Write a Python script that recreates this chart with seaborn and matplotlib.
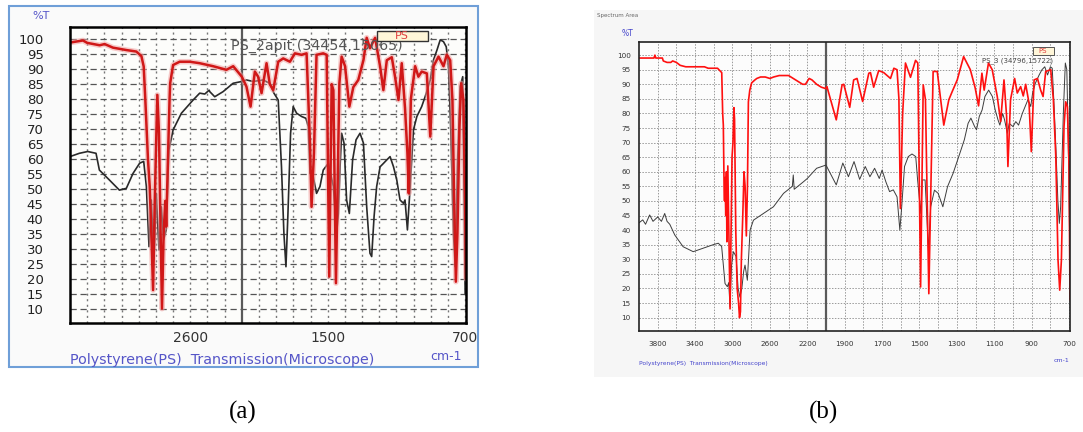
import numpy as np
import pandas as pd
import seaborn as sns
import matplotlib
matplotlib.use('Agg')
import matplotlib.pyplot as plt
from matplotlib.patches import Rectangle

# FTIR spectra of polystyrene
a_red_wn = [4000, 3849, 3800, 3655, 3597, 3500, 3344, 3228, 3169, 3142, 3123, 3092, 3072, 3053,
            3033, 3014, 2995, 2983, 2964, 2945, 2929, 2910, 2891, 2880, 2860, 2841, 2834, 2800,
            2723, 2606, 2490, 2334, 2179, 2100, 2000,
            1973, 1949, 1924, 1905, 1885, 1856, 1837, 1817, 1788, 1759, 1720, 1691, 1652, 1623,
            1603, 1594, 1580, 1565, 1526, 1506, 1491, 1477, 1467, 1452, 1432, 1419, 1399, 1374,
            1351, 1322, 1292, 1273, 1254, 1224, 1195, 1176, 1156, 1127, 1108, 1088, 1069, 1050,
            1036, 1028, 1016, 991, 972, 953, 923, 903, 884, 855, 826, 807, 787, 774, 764, 754,
            745, 733, 723, 710, 700, 695]
a_red_t = [98.9, 99.6, 98.8, 98, 98.4, 97.2, 96.4, 95.9, 94.4, 90.9, 79.7, 59.7, 50.8, 35,
           16.2, 45, 68, 81.4, 68.6, 35.2, 10, 35, 46, 37.4, 59.7, 80, 85.3, 91.4,
           92.5, 92.5, 92, 91, 89.8, 91, 87.5,
           84.2, 77.5, 89.2, 87.5, 82, 92, 85, 83, 92.5, 93.6, 92.5, 95.3, 94.8, 95.3,
           65.2, 44, 62, 94.8, 95.3, 94.8, 20.7, 85, 83, 18.5, 85.3, 94.2, 91, 77.5,
           84, 86.4, 93, 100.5, 97, 100.5, 90.9, 83, 93, 94, 87.5, 79.7, 92, 77,
           62, 48.5, 80, 91, 87.5, 89.2, 88.6, 67.5, 91, 94.2, 91, 94.8, 93, 79.7, 46.3, 19,
           35, 70.7, 85.3, 79.7, 46.3, 20]

a_black_wn = [4000, 3891, 3794, 3697, 3658, 3542, 3425, 3344, 3266, 3189, 3142, 3111, 3080, 3053,
              3022, 2995, 2964, 2936, 2910, 2880, 2849, 2800, 2703, 2567, 2490, 2431, 2380, 2373,
              2315, 2218, 2101, 2000,
              1973, 1934, 1876, 1837, 1813, 1788, 1769, 1755, 1743, 1732, 1716, 1701, 1681, 1652,
              1627, 1613, 1603, 1584, 1565, 1545, 1526, 1496, 1483, 1467, 1448, 1438, 1428, 1419,
              1405, 1390, 1374, 1355, 1335, 1312, 1292, 1273, 1254, 1244, 1230, 1215, 1195, 1176,
              1156, 1137, 1117, 1098, 1079, 1059, 1050, 1036, 1020, 1001, 981, 953, 933, 903, 884,
              864, 845, 826, 810, 797, 783, 768, 758, 745, 729, 714, 700]
a_black_t = [60.8, 61.9, 62.5, 61.9, 56.3, 53, 49.6, 50.2, 55.2, 58.6, 59.2, 50.8, 30.7, 46.3,
             26.3, 48.5, 29.6, 44, 33, 36.3, 63, 69.7, 75.3, 79.7, 82, 81.7, 83, 82.5,
             80.8, 82.5, 85.3, 85.9,
             86.4, 85.9, 86.4, 85.3, 82, 79.7, 57.4, 35.2, 24, 40.8, 68.6, 77.5, 75.3, 74.2,
             73.6, 70.8, 55.2, 54.1, 48.5, 50.8, 56.3, 58.6, 55.2, 50.8, 35.2, 41.8, 57.4, 68.6,
             65.3, 46.3, 41.8, 59.7, 66.4, 68.6, 65.3, 44, 28.5, 27.4, 40.8, 50.8, 57.4, 58.5,
             59.7, 60.8, 57.4, 53, 46.3, 45.2, 46.3, 36.3, 50.8, 69.7, 74.2, 77.5, 80.8, 86.4, 93.1,
             96.4, 99.8, 99.2, 97.5, 90.9, 68.6, 35.2, 24, 57.4, 84.2, 87.5, 15]

b_red_wn = [4000, 3840, 3830, 3820, 3750, 3740, 3700, 3660, 3640, 3600, 3560, 3500, 3300, 3260,
            3160, 3130, 3115, 3105, 3098, 3090, 3085, 3080, 3072, 3065, 3060, 3050, 3040, 3030,
            3026, 3015, 3005, 2995, 2985, 2978, 2965, 2950, 2935, 2925, 2915, 2905, 2890, 2877,
            2865, 2852, 2840, 2830, 2815, 2795, 2760, 2740, 2700, 2650, 2600, 2560, 2500, 2400,
            2350, 2300, 2250, 2220, 2180, 2150, 2100, 2050, 2000,
            1995, 1945, 1914, 1905, 1873, 1852, 1834, 1804, 1771, 1762, 1745, 1718, 1691, 1655,
            1637, 1620, 1610, 1602, 1590, 1575, 1548, 1521, 1509, 1494, 1480, 1468, 1450, 1427,
            1405, 1370, 1343, 1325, 1298, 1264, 1228, 1202, 1184, 1166, 1154, 1131, 1111, 1084,
            1066, 1048, 1034, 1027, 1013, 991, 977, 959, 945, 932, 914, 902, 887, 869, 852, 839,
            825, 798, 784, 771, 759, 750, 741, 727, 718, 709, 700, 695]
b_red_t = [99, 99, 100, 99, 99, 98, 97.5, 97.5, 98, 97.5, 96.5, 96, 96, 95.5,
           95.5, 94.5, 94, 80, 76, 55, 50, 58, 45, 60, 36, 62, 42, 20,
           13, 40, 65, 70, 82, 78, 40, 20, 15, 10, 12, 30, 45, 60,
           55, 38, 55, 84, 88, 90.5, 91.5, 92, 92.5, 92.5, 92, 92.5, 93, 93,
           92, 91, 90, 90, 92, 91.5, 90, 89, 88.5,
           89.2, 77.8, 89.8, 90, 82.1, 91.5, 92, 84.1, 93.8, 94, 89, 94.7, 94, 92,
           95.5, 95, 85, 47.4, 80, 97.3, 92.4, 98.2, 97.3, 20.5, 89.8, 84.7, 18.2, 94.4,
           94.4, 76, 84.7, 87.5, 91.5, 99.5, 95, 88.7, 82.6, 93.8, 88, 97.3, 95, 85.8,
           77.2, 91.5, 79, 61.8, 84.7, 92, 87, 89.2, 86, 90, 83.5, 66.9, 91.5, 92, 88, 85.8,
           94.4, 95, 84.7, 65.2, 29.7, 19.4, 29.7, 75.5, 84, 82.3, 61.8, 16]

b_black_wn = [4000, 3960, 3930, 3886, 3850, 3800, 3760, 3725, 3700, 3671, 3617, 3528, 3420, 3313,
              3206, 3152, 3116, 3080, 3055, 3040, 3027, 3010, 2991, 2962, 2940, 2920, 2900, 2880,
              2866, 2841, 2812, 2776, 2669, 2562, 2454, 2360, 2350, 2340, 2240, 2200, 2100, 2000,
              1945, 1910, 1880, 1850, 1820, 1790, 1765, 1740, 1715, 1700, 1680, 1660, 1640, 1620,
              1605, 1595, 1580, 1560, 1540, 1520, 1510, 1493, 1485, 1470, 1452, 1440, 1420, 1400,
              1375, 1350, 1320, 1290, 1260, 1240, 1225, 1205, 1195, 1180, 1165, 1150, 1130, 1110,
              1095, 1080, 1070, 1055, 1045, 1030, 1020, 1000, 985, 970, 950, 920, 905, 895, 880,
              860, 845, 830, 815, 800, 790, 780, 770, 760, 752, 745, 730, 720, 712, 705, 700, 695]
b_black_t = [42.5, 43.5, 42, 45.2, 43, 44.5, 43, 45.7, 43, 42, 38.3, 34.3, 32.6, 33.8,
             35, 35.5, 34.4, 21.7, 20.6, 22, 13.7, 28, 32.6, 31, 20, 17, 20, 26,
             28, 22.8, 40, 43.4, 45.7, 48, 52.6, 55, 58.9, 54, 56.6, 57.7, 61.2, 62.3,
             55.5, 63, 58.3, 63.5, 57.4, 61.8, 58.3, 61.2, 57.7, 60.6, 56.6, 53.2, 53.8, 51.4,
             40, 48, 61.8, 65.2, 66.1, 65.2, 57.2, 45.7, 57.2, 57.2, 33, 48, 53.7, 52.6,
             48, 54.9, 59.5, 65.2, 71, 76.6, 78.4, 75.5, 74.4, 79, 81.2, 85.8, 88, 85.8,
             81.2, 77.8, 76, 80, 77.8, 73.2, 76.6, 75.5, 77.2, 76, 80, 84.7, 82.4, 87, 90.4,
             93.2, 95, 96, 93.2, 96, 95.5, 82.4, 67.5, 50.3, 42.3, 48, 81.2, 97.3, 95, 73.2, 50, 30]

y_ticks = list(range(10, 101, 5))
grid_wn = list(range(3800, 2100, -200)) + list(range(1900, 699, -100))
a_labels = [2600, 1500, 700]
b_labels = [3800, 3400, 3000, 2600, 2200, 1900, 1700, 1500, 1300, 1100, 900, 700]

W, H = 1083, 432


# wavenumber axis: below 2000 cm-1 is stretched two-fold
def fwd(w):
  w = np.asarray(w, dtype=float)
  return np.where(w >= 2000, w, 2 * w - 2000)


def inv(p):
  p = np.asarray(p, dtype=float)
  return np.where(p >= 2000, p, (p + 2000) / 2)


def box(x0, y0, x1, y1):
  return [x0 / W, 1 - y1 / H, (x1 - x0) / W, (y1 - y0) / H]


def ftext(x, y, s, **kw):
  fig.text(x / W, 1 - y / H, s, **kw)


def plot_spectrum(ax, wn, t, **kw):
  df = pd.DataFrame({'wn': wn, 't': t})
  sns.lineplot(data=df, x='wn', y='t', ax=ax, sort=False, estimator=None, **kw)


def style_axes(ax, ylim, labels, hgrid, vgrid):
  ax.set_xscale('function', functions=(fwd, inv))
  ax.set_xlim(4000, 695)
  ax.set_ylim(*ylim)
  ax.set_xticks(labels)
  ax.set_xticklabels([str(v) for v in labels])
  ax.set_xticks(grid_wn, minor=True)
  ax.set_yticks(y_ticks)
  ax.set_xlabel('')
  ax.set_ylabel('')
  ax.grid(True, axis='y', **hgrid)
  ax.grid(True, axis='x', which='both', **vgrid)
  ax.set_axisbelow(True)
  ax.axvline(2000, color='#5a5a5a', lw=1.6, zorder=1)


sns.set_style('white')
plt.rcParams['font.family'] = ['DejaVu Sans']

fig = plt.figure(figsize=(W / 100, H / 100), dpi=100)
fig.patch.set_facecolor('white')

# panel frames (behind the axes)
fig.patches.append(Rectangle((9 / W, 1 - 367 / H), 469 / W, 361 / H, transform=fig.transFigure,
                             facecolor='#fafafa', edgecolor='#6f9fd8', lw=1.5, zorder=-5))
fig.patches.append(Rectangle((594 / W, 1 - 377 / H), 489 / W, 367 / H, transform=fig.transFigure,
                             facecolor='#f6f6f6', edgecolor='none', zorder=-5))

# (a)
ax1 = fig.add_axes(box(70, 27, 466, 323))
ax1.set_facecolor('#fdfdfb')
plot_spectrum(ax1, a_black_wn, a_black_t, color='#2a2a2a', lw=1.2)
plot_spectrum(ax1, a_red_wn, a_red_t, color='#f2a0a0', lw=4, alpha=0.55)
plot_spectrum(ax1, a_red_wn, a_red_t, color='#d01818', lw=1.8)
style_axes(ax1, (5.2, 104.1), a_labels,
           dict(color='#555555', lw=0.9, ls=(0, (5, 3))),
           dict(color='#777777', lw=1.0, ls=(0, (1.5, 2.5))))
for s in ax1.spines.values():
  s.set_color('black')
  s.set_linewidth(1.8)
ax1.tick_params(axis='y', length=16, width=1.2, labelsize=9.5, colors='#222222', pad=3)
ax1.tick_params(axis='x', which='major', length=4, width=1.2, labelsize=10, colors='#333333', pad=2)
ax1.tick_params(axis='x', which='minor', length=3, width=1)

ftext(41, 16, '%T', fontsize=8, color='#5555c8', ha='center', va='center')
fig.patches.append(Rectangle((377 / W, 1 - 41 / H), 51 / W, 10 / H, transform=fig.transFigure,
                             facecolor='#fff6d8', edgecolor='#333333', lw=1, zorder=5))
ftext(402, 36, 'PS', fontsize=8, color='#e04040', ha='center', va='center', zorder=6)
ftext(317, 46, 'PS_2apit (34454,15065)', fontsize=10.3, color='#555555', ha='center', va='center')
ftext(70, 360, 'Polystyrene(PS)  Transmission(Microscope)', fontsize=10.3, color='#5555c8',
      ha='left', va='center')
ftext(446, 357, 'cm-1', fontsize=9, color='#5555c8', ha='center', va='center')

# (b)
ax2 = fig.add_axes(box(639, 42, 1070, 331))
ax2.set_facecolor('#fcfcfc')
plot_spectrum(ax2, b_black_wn, b_black_t, color='#3c3c3c', lw=0.7)
plot_spectrum(ax2, b_red_wn, b_red_t, color='#ff1010', lw=1.2)
style_axes(ax2, (5.4, 104.5), b_labels,
           dict(color='#9a9a9a', lw=0.7, ls=(0, (1.5, 1.5))),
           dict(color='#9a9a9a', lw=0.7, ls=(0, (1.5, 1.5))))
for s in ax2.spines.values():
  s.set_color('#222222')
  s.set_linewidth(1.2)
ax2.tick_params(axis='y', length=4, width=0.8, labelsize=5.2, colors='#333333', pad=2)
ax2.tick_params(axis='x', which='both', length=4, width=0.8, labelsize=5.2, colors='#333333', pad=3)

ftext(597, 16, 'Spectrum Area', fontsize=4, color='#666666', ha='left', va='center')
ftext(628, 33, '%T', fontsize=5.5, color='#4444cc', ha='center', va='center')
fig.patches.append(Rectangle((1033 / W, 1 - 55 / H), 21 / W, 8.5 / H, transform=fig.transFigure,
                             facecolor='#fff6d8', edgecolor='#555555', lw=0.7, zorder=5))
ftext(1043, 51, 'PS', fontsize=5, color='#e04040', ha='center', va='center', zorder=6)
ftext(982, 61, 'PS_3 (34796,15722)', fontsize=5, color='#444444', ha='left', va='center')
ftext(639, 363, 'Polystyrene(PS)  Transmission(Microscope)', fontsize=4.3, color='#4444cc',
      ha='left', va='center')
ftext(1061, 361, 'cm-1', fontsize=4.5, color='#4444cc', ha='center', va='center')

# panel captions
ftext(243, 412, '(a)', fontsize=18, color='black', ha='center', va='center', family='Liberation Serif')
ftext(823, 412, '(b)', fontsize=18, color='black', ha='center', va='center', family='Liberation Serif')

fig.savefig('out.png', dpi=100)
plt.close()
